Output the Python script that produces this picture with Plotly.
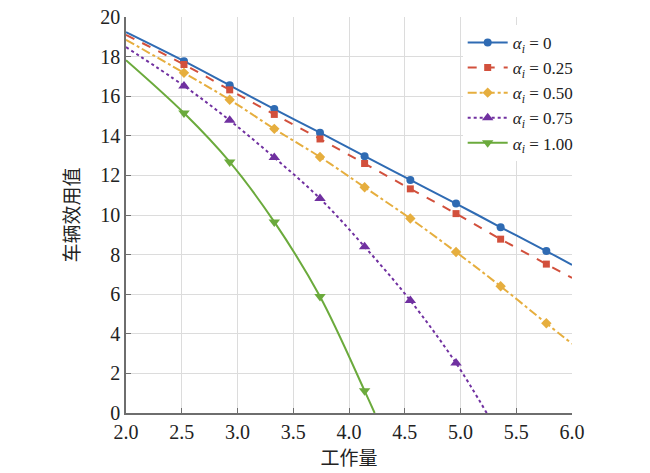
import plotly.graph_objects as go

# 工作量 positions where the markers sit
x_marks = [2.52, 2.93, 3.33, 3.74, 4.14, 4.55, 4.96, 5.36, 5.77]

# 车辆效用值 at the markers, one list per alpha
y_a000 = [17.77, 16.55, 15.35, 14.16, 12.97, 11.77, 10.58, 9.38, 8.18]
y_a025 = [17.60, 16.32, 15.08, 13.84, 12.60, 11.32, 10.07, 8.78, 7.52]
y_a050 = [17.18, 15.82, 14.35, 12.93, 11.40, 9.82, 8.13, 6.40, 4.53]
y_a075 = [16.52, 14.78, 12.90, 10.83, 8.40, 5.68, 2.52]
y_a100 = [15.15, 12.68, 9.65, 5.88, 1.12]

# curve ends: value at x=2.0, and the last (x, y) of each curve
start_vals = [19.23, 19.10, 18.85, 18.48, 17.82]
end_x = [6.0, 6.0, 6.0, 5.235, 4.23]
end_y = [7.48, 6.82, 3.50, 0.0, 0.0]

labels = ["0", "0.25", "0.50", "0.75", "1.00"]
colors = ["#2F6BB3", "#D2503C", "#E6AE3E", "#7030A0", "#6BAA3C"]
dashes = ["solid", "dash", "dashdot", "dot", "solid"]
symbols = ["circle", "square", "diamond", "triangle-up", "triangle-down"]
msizes = [8, 7, 8, 10, 10]

series = [y_a000, y_a025, y_a050, y_a075, y_a100]

fig = go.Figure()
for i, ys in enumerate(series):
    xm = x_marks[:len(ys)]
    fig.add_trace(go.Scatter(
        x=[2.0] + xm + [end_x[i]], y=[start_vals[i]] + ys + [end_y[i]],
        mode="lines", line=dict(color=colors[i], dash=dashes[i], width=2, shape="spline"),
        showlegend=False, hoverinfo="skip"))
    fig.add_trace(go.Scatter(
        x=xm, y=ys, mode="markers",
        marker=dict(color=colors[i], symbol=symbols[i], size=msizes[i]),
        showlegend=False))
    # legend entry only
    fig.add_trace(go.Scatter(
        x=[None], y=[None], mode="lines+markers",
        name="<i>α<sub>i</sub></i> = " + labels[i],
        line=dict(color=colors[i], dash=dashes[i], width=2),
        marker=dict(color=colors[i], symbol=symbols[i], size=msizes[i])))

serif = "Liberation Serif"
cjk = "Noto Sans CJK SC"
axis_common = dict(
    showgrid=True, gridcolor="#DCDCDC", gridwidth=1,
    showline=True, linecolor="#6E6E6E", linewidth=1.5,
    ticks="inside", ticklen=5, tickcolor="#6E6E6E",
    zeroline=False, automargin=False, ticklabeloverflow="allow",
    tickfont=dict(family=serif, size=20, color="#222"),
)

# page body adds an 8px offset, so the figure is drawn 8px smaller
fig.update_layout(
    width=642, height=465,
    margin=dict(l=118, r=78, t=9, b=60),
    plot_bgcolor="white", paper_bgcolor="white",
    font=dict(family=serif, size=20, color="#222"),
    xaxis=dict(range=[2.0, 6.0], dtick=0.5, tickformat=".1f",
               title=dict(text="工作量", standoff=6,
                          font=dict(family=cjk, size=19, color="#222")),
               **axis_common),
    yaxis=dict(range=[0, 20], dtick=2,
               title=dict(text="车辆效用值", standoff=16,
                          font=dict(family=cjk, size=19, color="#222")),
               **axis_common),
    legend=dict(x=1.015, y=0.98, xanchor="right", yanchor="top",
                bgcolor="white", borderwidth=0,
                font=dict(family=serif, size=17, color="#222"),
                tracegroupgap=0, itemwidth=40),
)

fig.write_html("out.html")
